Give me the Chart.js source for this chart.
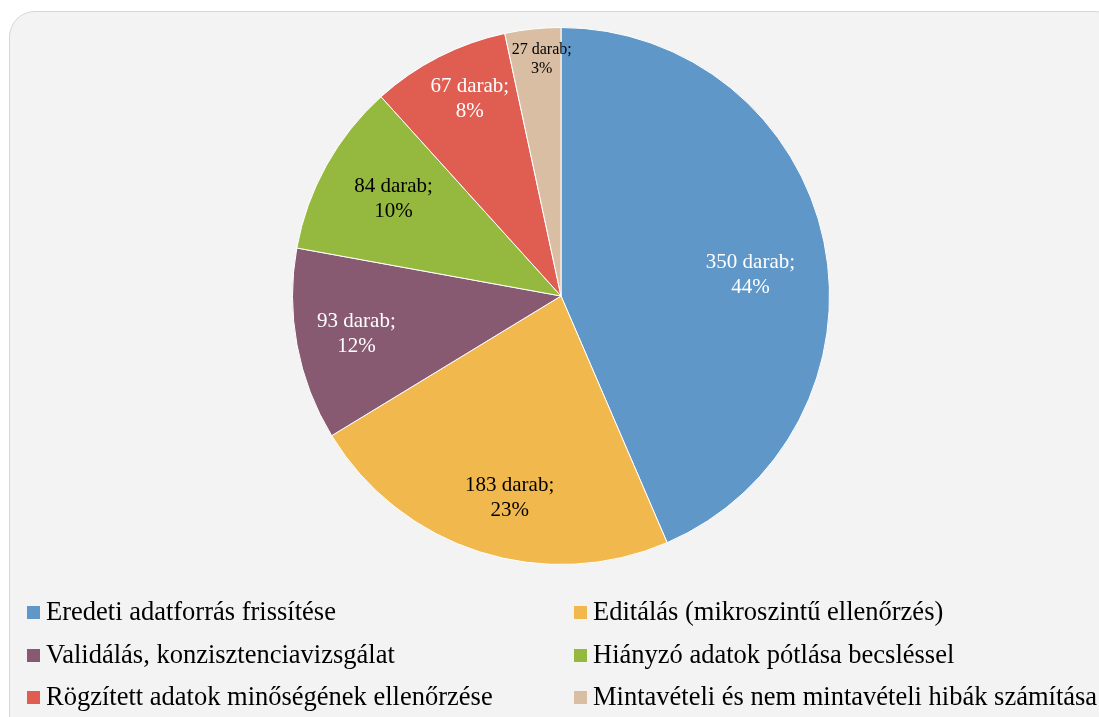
<!DOCTYPE html>
<html>
<head>
<meta charset="utf-8">
<script src="https://cdn.jsdelivr.net/npm/chart.js@4"></script>
<style>
  html, body { margin: 0; padding: 0; background: #fff; }
  #wrap { position: relative; width: 1099px; height: 717px; overflow: hidden; }
  #panel {
    position: absolute; left: 9px; top: 11px; width: 1110px; height: 730px;
    background: #f2f3f2; border: 1px solid #d6d6d6; border-radius: 26px;
  }
  #grafico { position: absolute; left: 0; top: 0; }
  #legenda {
    position: absolute; left: 27px; top: 598px; width: 1090px;
    font-family: "Liberation Serif", "Times New Roman", serif; font-size: 26.5px; color: #000;
  }
  .item { position: absolute; white-space: nowrap; line-height: 26px; }
  .item span.box { display: inline-block; width: 13px; height: 13px; margin-right: 6px; vertical-align: 1px; }
</style>
</head>
<body>
<div id="wrap">
  <div id="panel"></div>
  <canvas id="grafico" width="1099" height="717"></canvas>
  <div id="legenda"></div>
</div>
<script>
// dados
var categorias = ['Eredeti adatforrás frissítése', 'Editálás (mikroszintű ellenőrzés)',
  'Validálás, konzisztenciavizsgálat', 'Hiányzó adatok pótlása becsléssel',
  'Rögzített adatok minőségének ellenőrzése', 'Mintavételi és nem mintavételi hibák számítása'];
var valores = [350, 183, 93, 84, 67, 27];
var percentuais = ['44%', '23%', '12%', '10%', '8%', '3%'];

var cores = ['#5f97c9', '#f1b84d', '#875a72', '#95b83e', '#e05d52', '#d9bea4'];
var corTexto = ['#fff', '#000', '#fff', '#000', '#fff', '#000'];
// posicao dos rotulos: fracao do raio e desvio de angulo (graus)
var raioRotulo = [0.71, 0.775, 0.775, 0.72, 0.81, 0.885];
var desvioAngulo = [5.2, -3.4, 0, 0.9, 2.3, 1.4];

// rotulos dentro das fatias
var rotulos = {
  id: 'rotulos',
  afterDatasetsDraw: function(chart) {
    var ctx = chart.ctx;
    var arcos = chart.getDatasetMeta(0).data;
    arcos.forEach(function(arc, i) {
      var p = arc.getProps(['x', 'y', 'startAngle', 'endAngle', 'outerRadius']);
      var meio = (p.startAngle + p.endAngle) / 2 + desvioAngulo[i] * Math.PI / 180;
      var r = p.outerRadius * raioRotulo[i];
      var x = p.x + Math.cos(meio) * r;
      var y = p.y + Math.sin(meio) * r;
      var tam = i === 5 ? 16 : 21;
      var passo = i === 5 ? 9.5 : 12.5;
      ctx.save();
      ctx.font = tam + 'px "Liberation Serif", serif';
      ctx.fillStyle = corTexto[i];
      ctx.textAlign = 'center';
      ctx.textBaseline = 'middle';
      ctx.fillText(valores[i] + ' darab;', x, y - passo);
      ctx.fillText(percentuais[i], x, y + passo);
      ctx.restore();
    });
  }
};

var ctx = document.querySelector('#grafico').getContext('2d');
var pieChart = new Chart(ctx, {
  type: 'pie',
  data: {
    labels: categorias,
    datasets: [{
      data: valores,
      backgroundColor: cores,
      borderColor: '#ffffff',
      borderWidth: 1
    }]
  },
  options: {
    responsive: false,
    animation: false,
    layout: { padding: { left: 292, right: 269, top: 27, bottom: 152 } },
    plugins: { legend: { display: false }, tooltip: { enabled: false } }
  },
  plugins: [rotulos]
});

// legenda em duas colunas
var leg = document.getElementById('legenda');
categorias.forEach(function(nome, i) {
  var d = document.createElement('div');
  d.className = 'item';
  d.style.left = (i % 2 === 0 ? 0 : 547) + 'px';
  d.style.top = (Math.floor(i / 2) * 42.5) + 'px';
  d.innerHTML = '<span class="box" style="background:' + cores[i] + '"></span>' + nome;
  leg.appendChild(d);
});
</script>
</body>
</html>
